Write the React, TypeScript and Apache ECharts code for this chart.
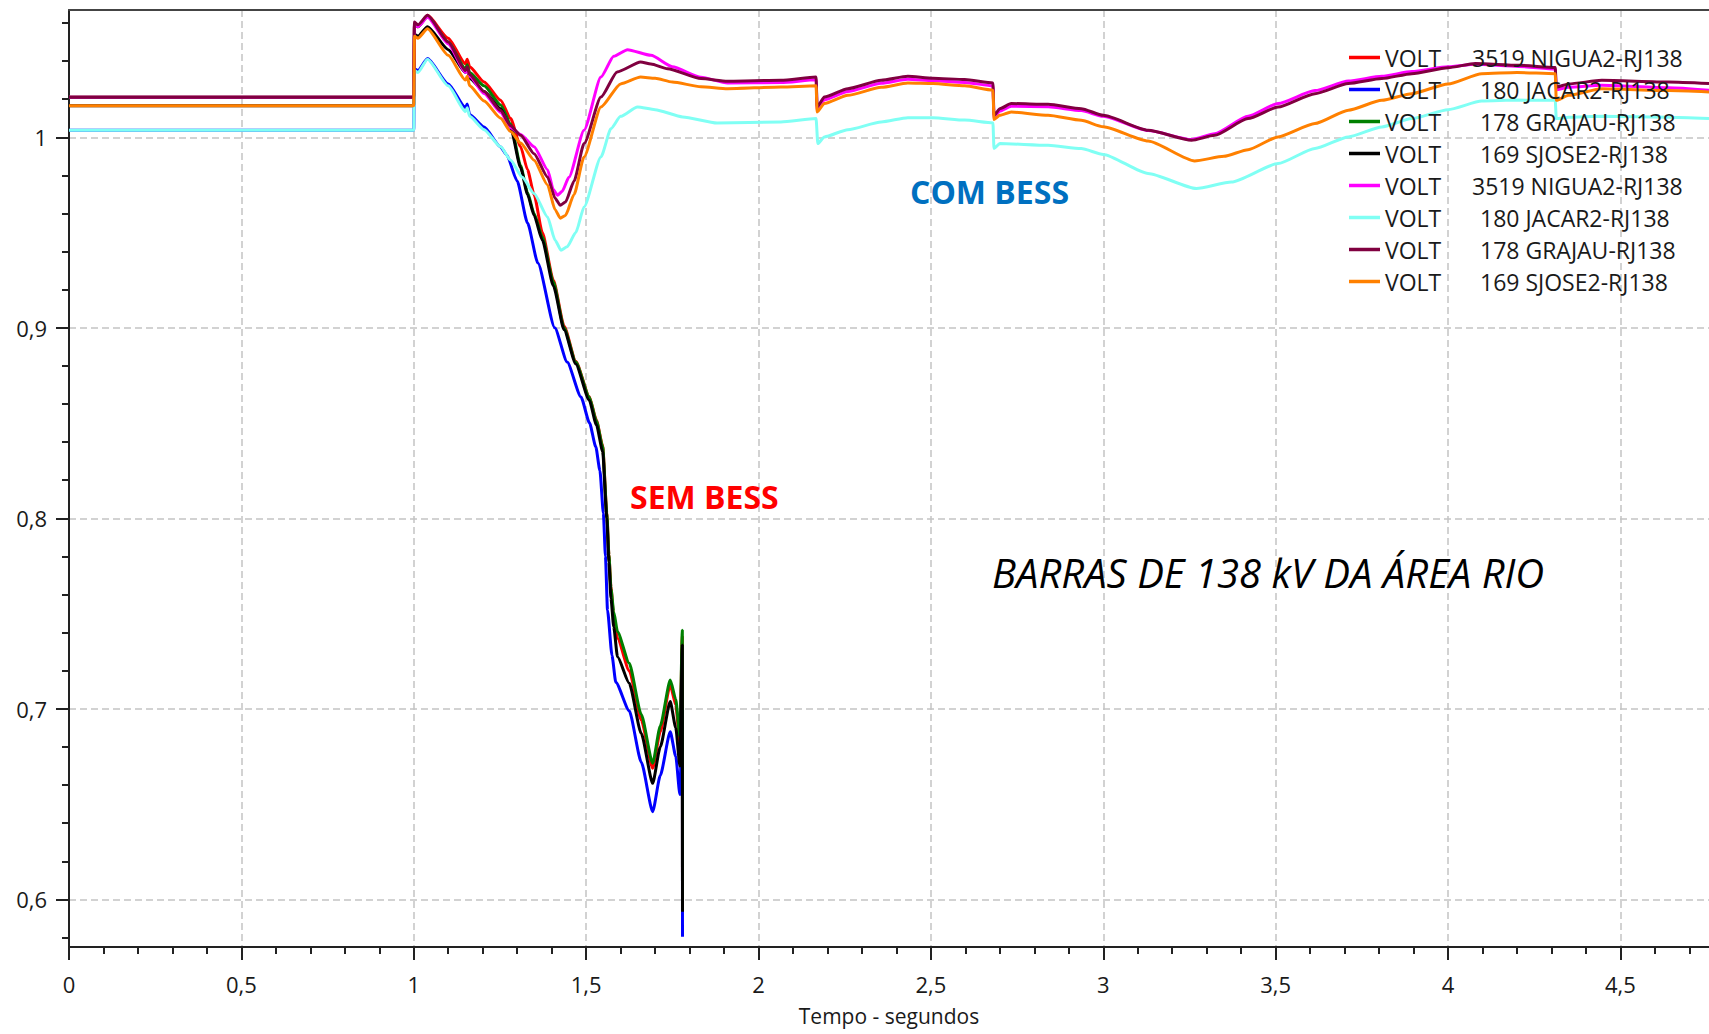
import React, { useEffect, useRef } from 'react';
import * as echarts from 'echarts';

// ---- Data (time in s, voltage in pu) ----
const tRed = [0, 1.0, 1.002, 1.012, 1.04, 1.1, 1.15, 1.155, 1.162, 1.204, 1.252, 1.281, 1.31, 1.33, 1.349, 1.373, 1.405, 1.436, 1.47, 1.509, 1.53, 1.548, 1.56, 1.566, 1.572, 1.58, 1.591, 1.625, 1.66, 1.693, 1.715, 1.744, 1.76, 1.772, 1.779, 1.7795];
const vRed = [1.021, 1.021, 1.059, 1.058, 1.064, 1.052, 1.0385, 1.041, 1.037, 1.029, 1.0194, 1.0098, 0.995, 0.983, 0.970, 0.950, 0.925, 0.901, 0.8825, 0.864, 0.8515, 0.838, 0.803, 0.781, 0.764, 0.748, 0.737, 0.720, 0.694, 0.6688, 0.688, 0.7125, 0.702, 0.682, 0.738, 0.598];

const tGreen = [0, 1.0, 1.002, 1.012, 1.04, 1.1, 1.15, 1.155, 1.162, 1.204, 1.252, 1.281, 1.31, 1.33, 1.349, 1.373, 1.405, 1.436, 1.47, 1.509, 1.53, 1.548, 1.56, 1.566, 1.572, 1.58, 1.591, 1.625, 1.66, 1.693, 1.715, 1.744, 1.76, 1.772, 1.779, 1.7795];
const vGreen = [1.021, 1.021, 1.059, 1.058, 1.0635, 1.050, 1.036, 1.038, 1.034, 1.027, 1.017, 1.007, 0.985, 0.971, 0.960, 0.9477, 0.924, 0.900, 0.882, 0.8637, 0.851, 0.8375, 0.8026, 0.781, 0.763, 0.751, 0.7405, 0.7239, 0.697, 0.6714, 0.691, 0.7151, 0.705, 0.685, 0.7413, 0.600];

const tBlack = [0, 1.0, 1.002, 1.012, 1.04, 1.1, 1.15, 1.155, 1.162, 1.204, 1.252, 1.281, 1.31, 1.33, 1.349, 1.373, 1.405, 1.436, 1.47, 1.509, 1.53, 1.548, 1.56, 1.566, 1.572, 1.58, 1.591, 1.625, 1.66, 1.693, 1.715, 1.744, 1.76, 1.772, 1.779, 1.7795];
const vBlack = [1.0166, 1.0166, 1.054, 1.053, 1.058, 1.046, 1.034, 1.036, 1.031, 1.024, 1.015, 1.005, 0.984, 0.970, 0.959, 0.946, 0.922, 0.899, 0.881, 0.862, 0.849, 0.835, 0.800, 0.777, 0.758, 0.743, 0.7273, 0.7134, 0.687, 0.6609, 0.68, 0.7038, 0.69, 0.67, 0.7335, 0.5935];

const tBlue = [0, 1.0, 1.002, 1.012, 1.04, 1.1, 1.15, 1.155, 1.162, 1.204, 1.252, 1.27, 1.30, 1.33, 1.36, 1.409, 1.445, 1.485, 1.51, 1.528, 1.54, 1.55, 1.556, 1.562, 1.575, 1.586, 1.625, 1.66, 1.693, 1.715, 1.744, 1.76, 1.772, 1.779, 1.7795];
const vBlue = [1.0037, 1.0037, 1.036, 1.035, 1.0413, 1.028, 1.0155, 1.0175, 1.012, 1.0054, 0.9949, 0.9906, 0.977, 0.955, 0.934, 0.900, 0.882, 0.8637, 0.850, 0.8375, 0.825, 0.8026, 0.78, 0.7518, 0.728, 0.714, 0.699, 0.672, 0.646, 0.665, 0.688, 0.675, 0.655, 0.70, 0.5804];

const tMagenta = [0, 1.0, 1.002, 1.012, 1.04, 1.1, 1.15, 1.155, 1.162, 1.204, 1.252, 1.281, 1.31, 1.349, 1.388, 1.405, 1.417, 1.43, 1.45, 1.494, 1.543, 1.58, 1.62, 1.688, 1.75, 1.833, 1.91, 2.065, 2.167, 2.17, 2.191, 2.259, 2.356, 2.433, 2.506, 2.598, 2.68, 2.683, 2.70, 2.733, 2.84, 2.936, 3.0, 3.13, 3.256, 3.323, 3.42, 3.507, 3.614, 3.711, 3.808, 3.895, 4.0, 4.079, 4.205, 4.311, 4.314, 4.35, 4.446, 4.64, 4.757];
const vMagenta = [1.021, 1.021, 1.0595, 1.058, 1.063, 1.049, 1.034, 1.036, 1.032, 1.023, 1.013, 1.005, 1.0015, 0.995, 0.983, 0.9725, 0.9696, 0.9715, 0.979, 1.0037, 1.0316, 1.0425, 1.046, 1.043, 1.037, 1.0315, 1.0285, 1.0287, 1.0302, 1.0145, 1.0197, 1.024, 1.0284, 1.0305, 1.0297, 1.0288, 1.027, 1.0105, 1.0138, 1.0163, 1.016, 1.014, 1.011, 1.0035, 0.9988, 1.0018, 1.011, 1.0177, 1.0245, 1.0295, 1.032, 1.0345, 1.037, 1.0383, 1.0372, 1.0358, 1.025, 1.0262, 1.0273, 1.026, 1.0247];

const tCyan = [0, 1.0, 1.002, 1.012, 1.04, 1.1, 1.15, 1.155, 1.162, 1.204, 1.252, 1.281, 1.315, 1.349, 1.388, 1.41, 1.427, 1.445, 1.47, 1.494, 1.543, 1.572, 1.60, 1.649, 1.70, 1.78, 1.88, 2.065, 2.167, 2.172, 2.191, 2.259, 2.356, 2.433, 2.506, 2.598, 2.68, 2.683, 2.70, 2.84, 2.936, 3.0, 3.13, 3.27, 3.372, 3.507, 3.614, 3.711, 3.808, 3.895, 4.0, 4.098, 4.2, 4.311, 4.314, 4.35, 4.446, 4.64, 4.757];
const vCyan = [1.0037, 1.0037, 1.035, 1.034, 1.041, 1.027, 1.0135, 1.0155, 1.011, 1.004, 0.995, 0.988, 0.979, 0.9705, 0.9582, 0.946, 0.9407, 0.9425, 0.950, 0.9634, 0.9897, 1.0045, 1.011, 1.0159, 1.0145, 1.0107, 1.0075, 1.008, 1.0098, 0.9967, 1.0002, 1.004, 1.008, 1.0103, 1.0103, 1.009, 1.0075, 0.9941, 0.9967, 0.9958, 0.9941, 0.991, 0.981, 0.9731, 0.9765, 0.9862, 0.9941, 1.0002, 1.0054, 1.0098, 1.0145, 1.019, 1.0195, 1.0194, 1.0098, 1.0105, 1.011, 1.0105, 1.0098];

const tPurple = [0, 1.0, 1.002, 1.012, 1.04, 1.1, 1.15, 1.155, 1.162, 1.204, 1.252, 1.281, 1.31, 1.349, 1.388, 1.41, 1.425, 1.44, 1.465, 1.494, 1.543, 1.59, 1.658, 1.688, 1.736, 1.833, 1.91, 2.065, 2.167, 2.17, 2.191, 2.259, 2.356, 2.433, 2.506, 2.598, 2.68, 2.683, 2.70, 2.733, 2.84, 2.936, 3.0, 3.13, 3.256, 3.323, 3.42, 3.507, 3.614, 3.711, 3.808, 3.895, 4.0, 4.079, 4.205, 4.311, 4.314, 4.35, 4.446, 4.64, 4.757];
const vPurple = [1.021, 1.021, 1.0605, 1.059, 1.064, 1.050, 1.035, 1.037, 1.033, 1.024, 1.014, 1.006, 1.001, 0.9914, 0.9792, 0.968, 0.9643, 0.966, 0.977, 0.9967, 1.0211, 1.0343, 1.0395, 1.0385, 1.036, 1.0308, 1.0294, 1.0299, 1.0316, 1.0159, 1.0211, 1.0255, 1.0299, 1.032, 1.031, 1.0303, 1.0285, 1.0115, 1.015, 1.0177, 1.0173, 1.015, 1.0115, 1.0037, 0.9984, 1.001, 1.0098, 1.0159, 1.0229, 1.0282, 1.0308, 1.0334, 1.0365, 1.0387, 1.0378, 1.0366, 1.0264, 1.028, 1.0299, 1.029, 1.0282];

const tOrange = [0, 1.0, 1.002, 1.012, 1.04, 1.1, 1.15, 1.155, 1.162, 1.204, 1.252, 1.281, 1.31, 1.349, 1.388, 1.41, 1.425, 1.44, 1.465, 1.494, 1.543, 1.60, 1.658, 1.70, 1.75, 1.833, 1.91, 2.065, 2.167, 2.17, 2.191, 2.259, 2.356, 2.433, 2.506, 2.598, 2.68, 2.683, 2.70, 2.733, 2.84, 2.936, 3.0, 3.13, 3.265, 3.35, 3.42, 3.507, 3.614, 3.711, 3.808, 3.895, 4.0, 4.098, 4.2, 4.311, 4.314, 4.35, 4.446, 4.64, 4.757];
const vOrange = [1.0166, 1.0166, 1.053, 1.052, 1.057, 1.043, 1.030, 1.032, 1.027, 1.019, 1.010, 1.003, 0.997, 0.988, 0.975, 0.962, 0.9575, 0.959, 0.970, 0.9897, 1.0159, 1.028, 1.0316, 1.031, 1.029, 1.0265, 1.0255, 1.0264, 1.027, 1.0133, 1.0177, 1.022, 1.0262, 1.0285, 1.0282, 1.027, 1.0247, 1.0093, 1.0115, 1.0133, 1.0115, 1.0089, 1.0055, 0.998, 0.9876, 0.990, 0.9935, 1.0002, 1.0072, 1.0142, 1.0194, 1.0229, 1.028, 1.0334, 1.034, 1.0334, 1.0194, 1.022, 1.0255, 1.0245, 1.0238];

const seriesNames = [
  'SEM|3519 NIGUA2-RJ138',
  'SEM|180 JACAR2-RJ138',
  'SEM|178 GRAJAU-RJ138',
  'SEM|169 SJOSE2-RJ138',
  'COM|3519 NIGUA2-RJ138',
  'COM|180 JACAR2-RJ138',
  'COM|178 GRAJAU-RJ138',
  'COM|169 SJOSE2-RJ138',
];
const seriesColors = ['#ff0000', '#0000ff', '#008000', '#000000', '#ff00ff', '#80fff4', '#800040', '#ff8000'];
const seriesTimes = [tRed, tBlue, tGreen, tBlack, tMagenta, tCyan, tPurple, tOrange];
const seriesValues = [vRed, vBlue, vGreen, vBlack, vMagenta, vCyan, vPurple, vOrange];

const xTickValues = [0, 0.5, 1, 1.5, 2, 2.5, 3, 3.5, 4, 4.5];
const yTickValues = [0.6, 0.7, 0.8, 0.9, 1.0];
const X_MIN = 0;
const X_MAX = 4.757;
const Y_MIN = 0.575;
const Y_MAX = 1.0668;

const annotations = [
  { text: 'COM BESS', color: '#0070C0', font: 'bold 32px "Open Sans"' },
  { text: 'SEM BESS', color: '#ff0000', font: 'bold 32px "Open Sans"' },
  { text: 'BARRAS DE 138 kV DA ÁREA RIO', color: '#000000', font: 'italic 40px "Open Sans"' },
];

const zip = (t: number[], v: number[]) => t.map((x, i) => [x, v[i]]);

const fmtX = (v: number) => {
  if (Math.abs(v * 2 - Math.round(v * 2)) > 1e-6) return '';
  return String(Math.round(v * 10) / 10).replace('.', ',');
};
const fmtY = (v: number) => {
  if (Math.abs(v * 10 - Math.round(v * 10)) > 1e-6) return '';
  return String(Math.round(v * 10) / 10).replace('.', ',');
};

const AXIS_COLOR = '#222';
const FONT = '"Open Sans", "Noto Sans", sans-serif';
const GRID_LINE = { color: '#c4c4c4', width: 1.5, type: [7, 4] };
const LEG_FS = 23;

export default function App() {
  const ref = useRef<HTMLDivElement>(null);
  useEffect(() => {
    if (!ref.current) return;
    const chart = echarts.init(ref.current, null, { renderer: 'svg' });
    const option: any = {
      animation: false,
      backgroundColor: '#ffffff',
      grid: { left: 69, top: 10, right: 0, bottom: 87, containLabel: false },
      legend: {
        orient: 'vertical',
        left: 1344,
        top: 41,
        icon: 'rect',
        itemWidth: 31,
        itemHeight: 3.5,
        itemGap: 9,
        data: seriesNames,
        formatter: (name: string) => {
          const label = name.split('|')[1];
          const key = label.startsWith('3519') ? 'a4' : 'a3';
          return `{${key}|VOLT}{b|${label}}`;
        },
        textStyle: {
          fontFamily: FONT,
          fontSize: LEG_FS,
          color: '#1a1a1a',
          lineHeight: 22,
          rich: {
            a4: { width: 87, fontFamily: FONT, fontSize: LEG_FS, color: '#1a1a1a', lineHeight: 22 },
            a3: { width: 95, fontFamily: FONT, fontSize: LEG_FS, color: '#1a1a1a', lineHeight: 22 },
            b: { fontFamily: FONT, fontSize: LEG_FS, color: '#1a1a1a', lineHeight: 22 },
          },
        },
      },
      xAxis: [
        {
          type: 'value',
          min: X_MIN,
          max: X_MAX,
          splitNumber: 10,
          position: 'bottom',
          name: 'Tempo - segundos',
          nameLocation: 'middle',
          nameGap: 58,
          nameTextStyle: { fontFamily: FONT, fontSize: 21, color: '#1a1a1a' },
          axisLine: { show: true, onZero: false, lineStyle: { color: AXIS_COLOR, width: 2 } },
          axisTick: { show: true, length: 13, lineStyle: { color: AXIS_COLOR, width: 2 }, customValues: xTickValues },
          minorTick: { show: true, splitNumber: 5, length: 7, lineStyle: { color: AXIS_COLOR, width: 2 } },
          axisLabel: {
            show: true,
            margin: 26,
            fontFamily: FONT,
            fontSize: 22,
            color: '#1a1a1a',
            formatter: fmtX,
            customValues: xTickValues,
          },
          splitLine: { show: true, lineStyle: GRID_LINE },
        },
        {
          type: 'value',
          min: X_MIN,
          max: X_MAX,
          position: 'top',
          axisLine: { show: true, onZero: false, lineStyle: { color: '#444', width: 2 } },
          axisTick: { show: false },
          axisLabel: { show: false },
          splitLine: { show: false },
        },
      ],
      yAxis: {
        type: 'value',
        min: Y_MIN,
        max: Y_MAX,
        splitNumber: 5,
        axisLine: { show: true, onZero: false, lineStyle: { color: AXIS_COLOR, width: 2 } },
        axisTick: { show: true, length: 13, lineStyle: { color: AXIS_COLOR, width: 2 }, customValues: yTickValues },
        minorTick: { show: true, splitNumber: 5, length: 7, lineStyle: { color: AXIS_COLOR, width: 2 } },
        axisLabel: {
          show: true,
          margin: 22,
          fontFamily: FONT,
          fontSize: 22,
          color: '#1a1a1a',
          formatter: fmtY,
          customValues: yTickValues,
        },
        splitLine: { show: true, lineStyle: GRID_LINE },
      },
      series: seriesNames.map((name, i) => ({
        name,
        type: 'line',
        xAxisIndex: 0,
        yAxisIndex: 0,
        data: zip(seriesTimes[i], seriesValues[i]),
        showSymbol: false,
        symbol: 'none',
        smooth: 0.2,
        smoothMonotone: 'x',
        color: seriesColors[i],
        lineStyle: { color: seriesColors[i], width: 3 },
        emphasis: { disabled: true },
        clip: true,
      })),
      graphic: [
        { type: 'text', x: 910, y: 191, z: 100, style: { text: annotations[0].text, fill: annotations[0].color, font: annotations[0].font, verticalAlign: 'middle' } },
        { type: 'text', x: 630, y: 496, z: 100, style: { text: annotations[1].text, fill: annotations[1].color, font: annotations[1].font, verticalAlign: 'middle' } },
        { type: 'text', x: 992, y: 572, z: 100, style: { text: annotations[2].text, fill: annotations[2].color, font: annotations[2].font, verticalAlign: 'middle' } },
      ],
    };
    chart.setOption(option);
    return () => chart.dispose();
  }, []);
  return (
    <div
      ref={ref}
      style={{ position: 'fixed', left: 0, top: 0, width: 1709, height: 1034, background: '#ffffff' }}
    />
  );
}
